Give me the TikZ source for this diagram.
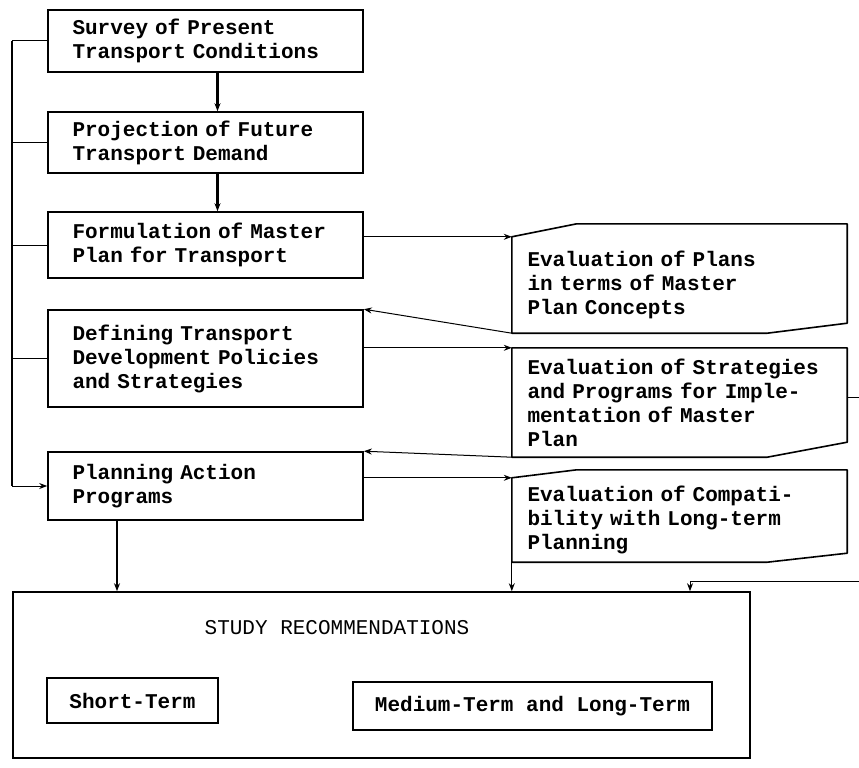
\documentclass[tikz,border=0pt]{standalone}
\usepackage{fontspec}
\setmonofont{Liberation Mono}
\usepackage{tikz}
\usetikzlibrary{arrows.meta,positioning}

\begin{document}
\begin{tikzpicture}[x=1pt, y=-1pt,
  box/.style={draw, line width=1.6pt, align=left, text width=266pt, inner xsep=24.5pt,
    font=\ttfamily\bfseries\fontsize{21}{24}\selectfont},
  evalbox/.style={align=left, text width=304pt, inner xsep=15.5pt,
    font=\ttfamily\bfseries\fontsize{21}{24}\selectfont},
  outline/.style={draw, line width=1.6pt, line join=round},
  termbox/.style={draw, line width=1.6pt, align=center,
    font=\ttfamily\bfseries\fontsize{21}{24}\selectfont},
  flow/.style={->, line width=2.4pt},
  link/.style={line width=1pt},
  >={Stealth[length=8pt,width=6pt]}]
\useasboundingbox (0,0) rectangle (859,768);

% main sequence
\node[box, minimum height=62pt] (survey) at (205.5,41) {Survey of Present\\Transport Conditions};
\node[box, minimum height=61pt] (demand) at (205.5,142.5) {Projection of Future\\Transport Demand};
\node[box, minimum height=66pt] (master) at (205.5,245) {Formulation of Master\\Plan for Transport};
\node[box, minimum height=97pt] (policy) at (205.5,358.5) {Defining Transport\\Development Policies\\and Strategies};
\node[box, minimum height=68pt] (action) at (205.5,486) {Planning Action\\Programs};

% evaluations
\node[evalbox, minimum width=335pt, minimum height=96pt] (evplan) at (679.5,285) {Evaluation of Plans\\in terms of Master\\Plan Concepts};
\node[evalbox, minimum width=335pt, minimum height=109pt] (evstrat) at (679.5,402.5) {Evaluation of Strategies\\and Programs for Imple-\\mentation of Master\\Plan};
\node[evalbox, minimum width=335pt, minimum height=84pt] (evcomp) at (679.5,520) {Evaluation of Compati-\\bility with Long-term\\Planning};

\draw[outline] (evplan.north west) -- ([xshift=65pt,yshift=13pt]evplan.north west)
  -- ([yshift=13pt]evplan.north east) -- ([yshift=10pt]evplan.south east)
  -- ([xshift=-80pt]evplan.south east) -- (evplan.south west) -- cycle;
\draw[outline] (evstrat.north west) -- (evstrat.north east)
  -- ([yshift=15pt]evstrat.south east) -- ([xshift=-80pt]evstrat.south east)
  -- (evstrat.south west) -- cycle;
\draw[outline] (evcomp.north west) -- ([xshift=65pt,yshift=8pt]evcomp.north west)
  -- ([yshift=8pt]evcomp.north east) -- ([yshift=9pt]evcomp.south east)
  -- ([xshift=-80pt]evcomp.south east) -- (evcomp.south west) -- cycle;

% recommendations
\node[draw, line width=1.6pt, minimum width=737pt, minimum height=166pt] (recom) at (381.5,675) {};
\node[font=\ttfamily\fontsize{21}{24}\selectfont] (title) at (337,628) {STUDY RECOMMENDATIONS};
\node[termbox, minimum width=171pt, minimum height=45pt] (short) at (132.5,700.5) {Short-Term};
\node[termbox, minimum width=359pt, minimum height=48pt] (long) at (532.5,706) {Medium-Term and Long-Term};

% helper coordinates
\coordinate (bus) at (12,0);
\coordinate (drop) at (117,0);
\coordinate (tap) at (690,0);
\coordinate (outR) at (859,397);
\coordinate (inR) at (859,581);

\draw[flow] ([xshift=12pt]survey.south) -- ([xshift=12pt]demand.north);
\draw[flow] ([xshift=12pt]demand.south) -- ([xshift=12pt]master.north);

% feedback bus on the left
\draw[line width=2.4pt] (survey.west -| bus) -- (action.west -| bus);
\draw[link] (survey.west) -- (survey.west -| bus);
\draw[link] (demand.west) -- (demand.west -| bus);
\draw[link] (master.west) -- (master.west -| bus);
\draw[link] (policy.west) -- (policy.west -| bus);
\draw[link, ->] (action.west -| bus) -- (action.west);

% to and from the evaluations
\draw[link, ->] (evplan.north west -| master.east) -- (evplan.north west);
\draw[link, ->] (evplan.south west) -- (policy.north east);
\draw[link, ->] (evstrat.north west -| policy.east) -- (evstrat.north west);
\draw[link, ->] (evstrat.south west) -- (action.north east);
\draw[link, ->] (evcomp.north west -| action.east) -- (evcomp.north west);
\draw[link, ->] (evcomp.south west) -- (evcomp.south west |- recom.north);
\draw[link] (outR -| evstrat.east) -- (outR);
\draw[link, ->] (inR) -| (recom.north -| tap);

\draw[flow] (action.south -| drop) -- (recom.north -| drop);
\end{tikzpicture}
\end{document}
